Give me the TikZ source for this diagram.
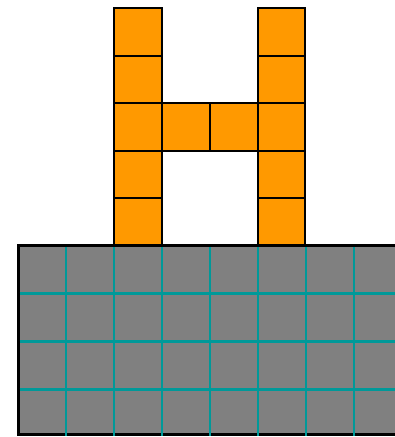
\documentclass[tikz,border=0pt]{standalone}
\definecolor{hor}{RGB}{255,153,0}
\definecolor{hgray}{RGB}{128,128,128}
\definecolor{hteal}{RGB}{0,153,153}
\tikzset{
  obox/.style={fill=hor,draw=black,line width=2pt},
  tealline/.style={draw=hteal,line width=2.5pt}
}
\begin{document}
\begin{tikzpicture}[x=1pt,y=-1pt]
\useasboundingbox (0,0) rectangle (395,437);
\clip (0,0) rectangle (395,437);
% orange H
\foreach \k in {0,...,4}{
  \draw[obox] (114,{8+47.6*\k}) rectangle ++(48,47.6);
  \draw[obox] (257.7,{8+47.6*\k}) rectangle ++(47.6,47.6);
}
\draw[obox] (162,103.2) rectangle ++(48,47.6);
\draw[obox] (210,103.2) rectangle ++(47.7,47.6);
% gray base
\draw[fill=hgray,draw=black,line width=2.5pt] (18.3,245.6) rectangle (402,434.6);
% teal grid
\foreach \x in {66,114,162,210,258,306,354}{
  \draw[tealline] (\x,246.8) -- (\x,435.5);
}
\foreach \y in {293.3,341.3,389.3}{
  \draw[tealline] (19.6,\y) -- (400,\y);
}
\end{tikzpicture}
\end{document}
